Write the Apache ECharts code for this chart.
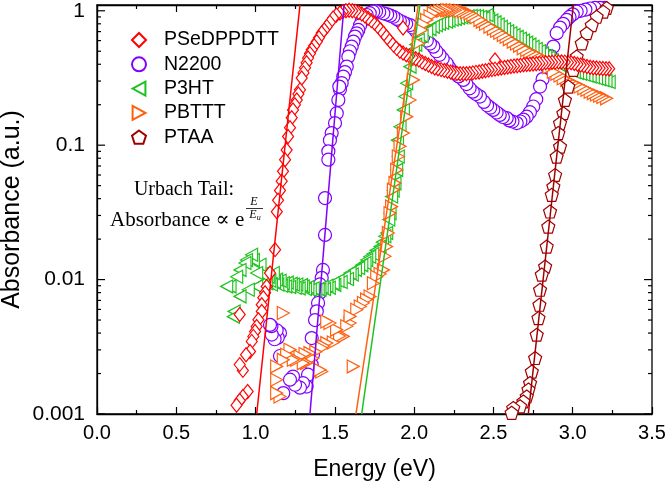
<!DOCTYPE html>
<html><head><meta charset="utf-8">
<script src="https://cdn.jsdelivr.net/npm/echarts@6/dist/echarts.min.js"></script>
<style>html,body{margin:0;padding:0;background:#fff}#c{width:667px;height:484px}</style>
</head><body><div id="c"></div>
<script>
// ---------- DATA (energy eV, absorbance a.u.) ----------
const seriesNames = ['PSeDPPDTT', 'N2200', 'P3HT', 'PBTTT', 'PTAA'];
const seriesColors = ['#ff0000', '#8000ff', '#1ec21e', '#ff5f0f', '#a00000'];

const psedppdtt = [
 [0.88,0.00116],[0.90,0.00126],[0.92,0.00135],[0.95,0.00147],[0.90,0.00233],[0.92,0.00211],[0.90,0.0055],
 [0.94,0.00276],[0.965,0.00292],[0.976,0.00347],[0.986,0.00378],[0.997,0.00411],[1.007,0.00448],[1.018,0.00502],
 [1.039,0.00579],[1.039,0.0065],[1.049,0.00733],[1.06,0.00798],[1.07,0.00889],[1.091,0.0112],[1.123,0.0167],
 [1.134,0.032],[1.142,0.039],[1.154,0.046],[1.165,0.054],[1.173,0.064],[1.186,0.078],[1.196,0.092],[1.205,0.116],
 [1.217,0.135],[1.228,0.160],[1.236,0.183],[1.248,0.20],[1.260,0.217],[1.270,0.24],[1.280,0.258],[1.291,0.316],
 [1.302,0.345],[1.312,0.376],[1.322,0.41],[1.331,0.446],[1.343,0.48],[1.354,0.512],[1.370,0.55],[1.386,0.589],
 [1.400,0.63],[1.417,0.684],[1.433,0.72],[1.449,0.762],[1.469,0.82],[1.489,0.883],[1.51,0.93],[1.532,0.963],
 [1.55,0.985],[1.57,1.0],[1.59,1.01],[1.61,1.0],[1.63,0.99],[1.65,0.97],[1.67,0.945],[1.69,0.915],[1.71,0.88],
 [1.73,0.845],[1.75,0.81],[1.77,0.765],[1.79,0.72],[1.81,0.675],[1.83,0.63],[1.85,0.59],[1.87,0.555],[1.89,0.525],
 [1.91,0.50],[1.93,0.485],[1.93,0.745],[1.95,0.47],[1.97,0.46],[1.99,0.45],[2.01,0.44],[2.03,0.43],[2.05,0.415],
 [2.07,0.405],[2.09,0.395],[2.11,0.385],[2.13,0.375],[2.15,0.37],[2.17,0.365],[2.19,0.36],[2.21,0.355],[2.23,0.35],
 [2.25,0.345],[2.27,0.342],[2.29,0.34],[2.31,0.34],[2.33,0.34],[2.35,0.342],[2.37,0.345],[2.39,0.348],[2.41,0.35],
 [2.43,0.355],[2.45,0.358],[2.47,0.362],[2.49,0.365],[2.51,0.368],[2.51,0.43],[2.53,0.372],[2.55,0.375],[2.57,0.378],
 [2.59,0.382],[2.61,0.385],[2.63,0.388],[2.65,0.39],[2.67,0.393],[2.69,0.396],[2.71,0.398],[2.73,0.40],[2.75,0.402],
 [2.77,0.404],[2.79,0.406],[2.81,0.408],[2.83,0.41],[2.85,0.412],[2.87,0.414],[2.89,0.415],[2.91,0.416],[2.93,0.416],
 [2.95,0.415],[2.97,0.413],[2.99,0.41],[3.01,0.405],[3.03,0.40],[3.05,0.395],[3.07,0.39],[3.09,0.385],[3.11,0.38],
 [3.13,0.377],[3.15,0.375],[3.17,0.373],[3.19,0.372],[3.21,0.37],[3.23,0.37]
];

const n2200 = [
 [1.091,0.0046],[1.10,0.0045],[1.102,0.0039],[1.12,0.0036],[1.133,0.0042],[1.14,0.0037],[1.154,0.0040],
 [1.154,0.0027],[1.175,0.00143],[1.217,0.0018],[1.236,0.0019],[1.249,0.00165],[1.28,0.00157],[1.299,0.0017],
 [1.322,0.0016],[1.331,0.00196],[1.354,0.00233],[1.362,0.00276],[1.354,0.00367],[1.375,0.0050],[1.386,0.0058],
 [1.394,0.0067],[1.406,0.0080],[1.406,0.0092],[1.417,0.0103],[1.425,0.0118],[1.438,0.0215],[1.438,0.0404],
 [1.459,0.078],[1.459,0.090],[1.469,0.109],[1.48,0.123],[1.501,0.146],[1.512,0.173],[1.522,0.217],[1.528,0.273],
 [1.532,0.26],[1.543,0.29],[1.553,0.324],[1.564,0.35],[1.575,0.384],[1.585,0.456],[1.595,0.50],[1.606,0.541],
 [1.617,0.59],[1.627,0.642],[1.638,0.68],[1.648,0.72],[1.659,0.78],[1.669,0.83],[1.685,0.88],[1.701,0.93],
 [1.72,0.96],[1.742,0.985],[1.76,0.99],[1.78,0.98],[1.806,0.957],[1.83,0.94],[1.85,0.92],[1.869,0.903],[1.89,0.87],
 [1.91,0.84],[1.93,0.82],[1.95,0.80],[1.974,0.783],[1.99,0.75],[2.01,0.71],[2.03,0.68],[2.058,0.641],[2.08,0.60],
 [2.10,0.57],[2.121,0.541],[2.14,0.50],[2.16,0.47],[2.18,0.44],[2.205,0.407],[2.22,0.38],[2.24,0.355],[2.26,0.34],
 [2.28,0.325],[2.31,0.306],[2.33,0.285],[2.35,0.265],[2.37,0.25],[2.39,0.24],[2.415,0.23],[2.44,0.21],[2.46,0.198],
 [2.48,0.19],[2.499,0.183],[2.52,0.175],[2.54,0.168],[2.56,0.162],[2.584,0.159],[2.60,0.153],[2.62,0.15],[2.647,0.146],
 [2.67,0.15],[2.69,0.155],[2.71,0.163],[2.73,0.176],[2.751,0.194],[2.77,0.22],[2.794,0.273],[2.81,0.31],[2.836,0.384],
 [2.86,0.46],[2.878,0.541],[2.899,0.681],[2.92,0.75],[2.94,0.80],[2.962,0.855],[2.98,0.90],[3.00,0.94],[3.025,0.985],
 [3.05,1.0],[3.08,1.02],[3.109,1.04],[3.14,1.05],[3.172,1.05],[3.20,1.05]
];

const p3ht = [
 [0.818,0.0089],[0.839,0.0089],[0.86,0.0053],[0.865,0.0058],[0.881,0.0105],[0.902,0.0118],[0.902,0.0075],[0.933,0.0133],
 [0.954,0.0084],[0.943,0.014],[0.975,0.0153],[0.986,0.014],[1.007,0.0112],[1.007,0.0089],[1.028,0.0129],[1.04,0.011],
 [1.05,0.0095],[1.07,0.0094],[1.08,0.0105],[1.09,0.0098],[1.10,0.0092],[1.112,0.0112],[1.12,0.0096],[1.133,0.0100],
 [1.14,0.0092],[1.155,0.0098],[1.165,0.0090],[1.175,0.0094],[1.19,0.0089],[1.20,0.0095],[1.215,0.0088],[1.225,0.0093],
 [1.238,0.0092],[1.25,0.0087],[1.26,0.0092],[1.275,0.0086],[1.29,0.0091],[1.301,0.0089],[1.315,0.0085],[1.33,0.0088],
 [1.345,0.0084],[1.364,0.0086],[1.38,0.0083],[1.395,0.0085],[1.406,0.0084],[1.42,0.0088],[1.435,0.0085],[1.45,0.009],
 [1.465,0.0087],[1.49,0.0094],[1.50,0.0091],[1.52,0.0098],[1.54,0.0096],[1.56,0.0104],[1.58,0.0101],[1.596,0.0112],
 [1.61,0.0109],[1.63,0.0118],[1.65,0.0122],[1.67,0.0128],[1.69,0.0133],[1.701,0.014],[1.72,0.0148],[1.74,0.0155],
 [1.76,0.0165],[1.785,0.0176],[1.80,0.019],[1.815,0.021],[1.827,0.0222],[1.84,0.028],[1.848,0.0312],[1.858,0.0415],
 [1.868,0.046],[1.879,0.0522],[1.89,0.0655],[1.90,0.0823],[1.895,0.109],[1.911,0.137],[1.932,0.183],[1.942,0.23],
 [1.953,0.289],[1.974,0.384],[1.995,0.512],[2.01,0.56],[2.026,0.607],[2.05,0.65],[2.079,0.70],[2.10,0.73],[2.121,0.762],
 [2.14,0.78],[2.16,0.80],[2.18,0.815],[2.205,0.83],[2.22,0.845],[2.24,0.86],[2.26,0.87],[2.28,0.885],[2.30,0.895],
 [2.32,0.90],[2.34,0.91],[2.36,0.915],[2.38,0.915],[2.40,0.91],[2.42,0.90],[2.44,0.885],[2.46,0.93],[2.47,0.87],
 [2.49,0.845],[2.51,0.82],[2.53,0.79],[2.55,0.76],[2.57,0.73],[2.59,0.705],[2.61,0.68],[2.63,0.66],[2.65,0.64],
 [2.67,0.62],[2.69,0.60],[2.71,0.58],[2.73,0.56],[2.75,0.54],[2.77,0.52],[2.79,0.50],[2.81,0.48],[2.83,0.46],
 [2.85,0.45],[2.87,0.43],[2.89,0.415],[2.91,0.40],[2.93,0.39],[2.95,0.38],[2.97,0.37],[2.99,0.36],[3.01,0.35],
 [3.03,0.345],[3.05,0.34],[3.07,0.335],[3.09,0.33],[3.11,0.325],[3.13,0.32],[3.15,0.315],[3.17,0.31],[3.19,0.305],
 [3.21,0.30],[3.23,0.295]
];

const pbttt = [
 [1.133,0.00226],[1.133,0.0018],[1.133,0.00143],[1.154,0.00135],[1.175,0.00564],[1.175,0.00253],[1.196,0.00276],
 [1.217,0.00301],[1.238,0.00253],[1.259,0.00253],[1.28,0.00268],[1.301,0.00239],[1.312,0.0028],[1.322,0.0024],
 [1.343,0.00284],[1.36,0.0026],[1.38,0.0029],[1.406,0.00213],[1.417,0.0031],[1.417,0.00207],[1.43,0.0032],
 [1.449,0.00488],[1.449,0.00337],[1.469,0.00475],[1.49,0.0034],[1.511,0.00424],[1.53,0.0038],[1.553,0.00378],
 [1.575,0.0045],[1.596,0.00532],[1.596,0.00475],[1.616,0.00226],[1.638,0.00596],[1.66,0.0063],[1.68,0.00669],
 [1.70,0.0071],[1.722,0.00748],[1.743,0.0094],[1.764,0.0105],[1.785,0.011],[1.806,0.0118],[1.816,0.0149],
 [1.827,0.0176],[1.837,0.0222],[1.848,0.0312],[1.858,0.0349],[1.869,0.0465],[1.879,0.0522],[1.89,0.0655],
 [1.90,0.0823],[1.911,0.098],[1.932,0.123],[1.953,0.163],[1.974,0.217],[1.995,0.306],[2.016,0.431],[2.026,0.573],
 [2.047,0.72],[2.06,0.79],[2.079,0.855],[2.10,0.91],[2.121,0.957],[2.14,0.98],[2.16,0.995],[2.18,1.0],[2.205,1.01],
 [2.22,1.01],[2.24,1.01],[2.26,1.01],[2.289,1.0],[2.31,0.99],[2.33,0.975],[2.352,0.957],[2.37,0.93],[2.39,0.895],
 [2.415,0.855],[2.43,0.83],[2.45,0.80],[2.478,0.762],[2.50,0.735],[2.52,0.71],[2.54,0.685],[2.562,0.661],[2.58,0.64],
 [2.60,0.615],[2.625,0.589],[2.645,0.57],[2.665,0.55],[2.688,0.526],[2.71,0.51],[2.73,0.495],[2.751,0.483],[2.77,0.47],
 [2.794,0.456],[2.81,0.43],[2.83,0.405],[2.85,0.38],[2.878,0.352],[2.90,0.34],[2.92,0.33],[2.94,0.315],[2.962,0.306],
 [2.98,0.298],[3.00,0.29],[3.02,0.283],[3.046,0.273],[3.07,0.265],[3.09,0.258],[3.11,0.25],[3.13,0.244],[3.15,0.238],
 [3.17,0.233],[3.19,0.228],[3.214,0.223]
];

const ptaa = [
 [2.615,0.00102],[2.625,0.00111],[2.668,0.00114],[2.689,0.00124],[2.71,0.00135],[2.721,0.00152],[2.731,0.0017],
 [2.742,0.00207],[2.763,0.00261],[2.773,0.00389],[2.784,0.00517],[2.79,0.0065],[2.794,0.0084],[2.805,0.0109],
 [2.826,0.0125],[2.836,0.0176],[2.846,0.0248],[2.857,0.0321],[2.868,0.0427],[2.878,0.0492],[2.889,0.0601],
 [2.899,0.0823],[2.92,0.0977],[2.909,0.123],[2.92,0.146],[2.941,0.173],[2.951,0.217],[2.972,0.273],[3.004,0.363],
 [3.025,0.456],[3.057,0.573],[3.088,0.681],[3.12,0.783],[3.151,0.903],[3.193,0.985],[3.214,1.05]
];

// Urbach-tail fit lines (two end points each)
const fitPSeDPPDTT = [[1.007,0.001],[1.280,1.104]];
const fitN2200     = [[1.343,0.001],[1.558,1.104]];
const fitP3HT      = [[1.669,0.001],[2.037,1.104]];
const fitPBTTT     = [[1.633,0.001],[2.026,1.104]];
const fitPTAA      = [[2.720,0.001],[3.004,1.104]];

// axes
const xMin = 0, xMax = 3.5, xInterval = 0.5;
const yMin = 0.001, yMax = 1.104;
const yMajorTicks = [0.001, 0.01, 0.1, 1];
const yTickLabels = ['0.001', '0.01', '0.1', '1'];
const yMinorTicks = [0.002,0.003,0.004,0.005,0.006,0.007,0.008,0.009,
                     0.02,0.03,0.04,0.05,0.06,0.07,0.08,0.09,
                     0.2,0.3,0.4,0.5,0.6,0.7,0.8,0.9];

// ---------- CHART ----------
const FONT = '"Liberation Sans", Arial, Helvetica, sans-serif';
const SERIF = '"Liberation Serif", "DejaVu Serif", "Times New Roman", serif';
const axisLineStyle = {color:'#000', width:1.3};

const symbols = [
  {symbol:'diamond', size:[11,14]},
  {symbol:'circle', size:13},
  {symbol:'path://M0,6 L11,0 L11,12 Z', size:[12,13]},
  {symbol:'path://M11,6 L0,0 L0,12 Z', size:[12,13]},
  {symbol:'path://M0,-10 L9.51,-3.09 L5.88,8.09 L-5.88,8.09 L-9.51,-3.09 Z', size:13}
];
const dataSets = [psedppdtt, n2200, p3ht, pbttt, ptaa];
const fits = [fitPSeDPPDTT, fitN2200, fitP3HT, fitPBTTT, fitPTAA];
const zOrder = [6, 2, 3, 4, 5];

const series = [];
dataSets.forEach((d, i) => {
  series.push({
    name: seriesNames[i], type: 'scatter', xAxisIndex: 0, yAxisIndex: 0,
    data: d.slice().reverse(),
    symbol: symbols[i].symbol, symbolSize: symbols[i].size, symbolKeepAspect: false,
    itemStyle: {color: '#ffffff', borderColor: seriesColors[i], borderWidth: 1.2, opacity: 1},
    z: zOrder[i], animation: false, silent: true
  });
});
fits.forEach((d, i) => {
  series.push({
    name: seriesNames[i] + ' fit', type: 'line', xAxisIndex: 0, yAxisIndex: 0,
    data: d, showSymbol: false, symbol: 'none',
    lineStyle: {color: seriesColors[i], width: 1.5}, z: 10, animation: false, silent: true
  });
});
// mirrored / minor log ticks on left and right frame edges
const tickData = yMinorTicks.map(v => [xMin, v, 4]).concat(yMajorTicks.map(v => [xMin, v, 8]));
series.push({
  name: 'yticks', type: 'custom', xAxisIndex: 0, yAxisIndex: 0, silent: true, z: 12,
  encode: {x: 0, y: 1}, data: tickData, clip: false,
  renderItem: (params, api) => {
    const v = api.value(1), len = api.value(2);
    const p0 = api.coord([xMin, v]), p1 = api.coord([xMax, v]);
    const st = {stroke: '#000', lineWidth: 1.2};
    return {type: 'group', children: [
      {type: 'line', shape: {x1: p0[0], y1: p0[1], x2: p0[0] + len, y2: p0[1]}, style: st},
      {type: 'line', shape: {x1: p1[0] - len, y1: p1[1], x2: p1[0], y2: p1[1]}, style: st}
    ]};
  }
});

const option = {
  backgroundColor: '#fff',
  animation: false,
  grid: {left: 97, right: 15, top: 5, bottom: 70, containLabel: false, outerBoundsMode: 'none',
         show: true, borderColor: '#000', borderWidth: 1.3, backgroundColor: 'transparent'},
  legend: {
    data: seriesNames, orient: 'vertical', left: 131, top: 30, padding: 0,
    itemWidth: 14, itemHeight: 14, itemGap: 4.3,
    textStyle: {fontFamily: FONT, fontSize: 19.5, color: '#000', lineHeight: 20, padding: [0,0,0,13]}
  },
  xAxis: [
    {type: 'value', position: 'bottom', min: xMin, max: xMax, interval: xInterval,
     name: 'Energy (eV)', nameLocation: 'middle', nameGap: 44, nameMoveOverlap: false,
     nameTextStyle: {fontFamily: FONT, fontSize: 23, color: '#000'},
     axisLine: {show: true, onZero: false, lineStyle: axisLineStyle},
     axisTick: {show: true, inside: true, length: 7, lineStyle: {color:'#000', width:1.2}},
     minorTick: {show: true, splitNumber: 2, length: 4, lineStyle: {color:'#000', width:1.2}},
     axisLabel: {fontFamily: FONT, fontSize: 20, color: '#000', margin: 9, formatter: v => v.toFixed(1)},
     splitLine: {show: false}},
    {type: 'value', position: 'top', min: xMin, max: xMax, interval: xInterval,
     axisLine: {show: true, onZero: false, lineStyle: axisLineStyle},
     axisTick: {show: true, inside: true, length: 7, lineStyle: {color:'#000', width:1.2}},
     minorTick: {show: true, splitNumber: 2, length: 4, lineStyle: {color:'#000', width:1.2}},
     axisLabel: {show: false}, splitLine: {show: false}}
  ],
  yAxis: [
    {type: 'log', logBase: 10, position: 'left', min: yMin, max: yMax,
     name: 'Absorbance (a.u.)', nameLocation: 'middle', nameGap: 72, nameRotate: 90, nameMoveOverlap: false,
     nameTextStyle: {fontFamily: FONT, fontSize: 25, color: '#000'},
     axisLine: {show: true, onZero: false, lineStyle: axisLineStyle},
     axisTick: {show: false},
     axisLabel: {fontFamily: FONT, fontSize: 21, color: '#000', margin: 12,
       formatter: v => { const i = yMajorTicks.findIndex(t => Math.abs(Math.log10(v / t)) < 0.01); return i >= 0 ? yTickLabels[i] : ''; }},
     splitLine: {show: false}}
  ],
  graphic: [
    {type: 'text', x: 184, y: 190, style: {text: 'Urbach Tail:', font: '20px ' + SERIF, textAlign: 'center', textVerticalAlign: 'middle', fill: '#000'}},
    {type: 'text', x: 110, y: 220, style: {text: 'Absorbance \u221D e', font: '21px ' + SERIF, textAlign: 'left', textVerticalAlign: 'middle', fill: '#000'}},
    {type: 'text', x: 254, y: 202, style: {text: 'E', font: 'italic 12px ' + SERIF, textAlign: 'center', textVerticalAlign: 'middle', fill: '#000'}},
    {type: 'line', shape: {x1: 246, y1: 208.5, x2: 263, y2: 208.5}, style: {stroke: '#000', lineWidth: 0.8}},
    {type: 'text', x: 255, y: 215, style: {text: '{a|E}{b|u}', textAlign: 'center', textVerticalAlign: 'middle', fill: '#000',
      rich: {a: {font: 'italic 12px ' + SERIF}, b: {font: 'italic 8px ' + SERIF, padding: [6,0,0,0]}}}}
  ],
  series: series
};

const chart = echarts.init(document.getElementById('c'), null, {renderer: 'canvas'});
chart.setOption(option);
</script>
</body></html>
